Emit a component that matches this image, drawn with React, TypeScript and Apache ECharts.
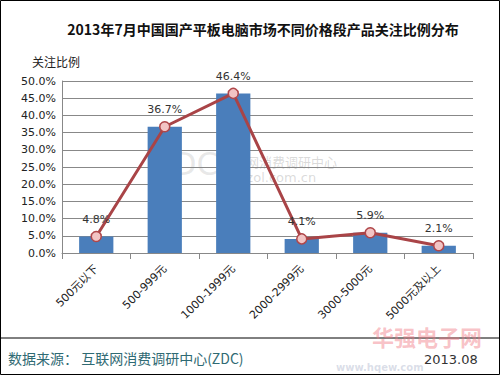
import React, { useEffect, useRef } from "react";
import * as echarts from "echarts";

const categories = ["500元以下", "500-999元", "1000-1999元", "2000-2999元", "3000-5000元", "5000元及以上"];
const barValues = [4.8, 36.7, 46.4, 4.1, 5.9, 2.1];
const lineValues = [4.8, 36.7, 46.4, 4.1, 5.9, 2.1];

const FONT = "'DejaVu Sans', 'Noto Sans CJK SC', sans-serif";
const CJK = "'Noto Sans CJK SC', sans-serif";

export default function App() {
  const ref = useRef<HTMLDivElement>(null);
  useEffect(() => {
    if (!ref.current) return;
    const chart = echarts.init(ref.current, null, { renderer: "svg" });
    chart.setOption({
      animation: false,
      backgroundColor: "#ffffff",
      title: {
        text: "2013年7月中国国产平板电脑市场不同价格段产品关注比例分布",
        left: 258,
        top: 17,
        textAlign: "center",
        textStyle: { fontSize: 14, fontWeight: "bold", color: "#111", fontFamily: CJK },
      },
      grid: { left: 62, right: 27, top: 81, bottom: 122 },
      graphic: [
        { type: "rect", shape: { x: 0.5, y: 0.5, width: 499, height: 374 }, style: { fill: "none", stroke: "#000", lineWidth: 1 }, silent: true },
        { type: "line", shape: { x1: 0, y1: 338, x2: 500, y2: 338 }, style: { stroke: "#000", lineWidth: 1 } },
        { type: "text", x: 220, y: 155, z: -1, style: { text: "互联网消费调研中心", fontSize: 13, fill: "rgba(150,150,150,0.35)", fontFamily: CJK } },
        { type: "text", x: 220, y: 171, z: -1, style: { text: "zdc.zol.com.cn", fontSize: 13, fill: "rgba(150,150,150,0.35)", fontFamily: FONT } },
        { type: "text", x: 150, y: 148, z: -1, style: { text: "ZDC", fontSize: 32, fill: "rgba(150,150,150,0.22)", fontFamily: FONT } },
        { type: "text", x: 372, y: 324, style: { text: "华强电子网", fontSize: 22, lineHeight: 24, fontWeight: "bold", fill: "rgba(240,120,130,0.45)", fontFamily: CJK } },
        { type: "text", x: 336, y: 362, z: -1, style: { text: "www.hqew.com", fontSize: 10, fontWeight: "bold", fill: "rgba(150,160,190,0.35)", fontFamily: FONT } },
        { type: "text", x: 8, y: 351, style: { text: "数据来源： 互联网消费调研中心(ZDC)", fontSize: 14, fill: "#2f6a73", fontFamily: CJK } },
        { type: "text", x: 424, y: 353, style: { text: "2013.08", fontSize: 13, fill: "#333", fontFamily: FONT } },
      ],
      xAxis: {
        type: "category",
        data: categories,
        axisLine: { lineStyle: { color: "#888" } },
        axisTick: { show: true, length: 6, lineStyle: { color: "#888" } },
        axisLabel: { rotate: 45, fontSize: 11, color: "#222", margin: 14, fontFamily: FONT },
      },
      yAxis: {
        type: "value",
        min: 0,
        max: 50,
        interval: 5,
        name: "关注比例",
        nameLocation: "end",
        nameGap: 14,
        nameTextStyle: { fontSize: 12, color: "#222", align: "right", padding: [0, -18, 0, 0], fontFamily: CJK },
        axisLine: { show: true, lineStyle: { color: "#888" } },
        axisTick: { show: false },
        axisLabel: { formatter: (v: number) => v.toFixed(1) + "%", fontSize: 11, color: "#222", margin: 6, fontFamily: FONT },
        splitLine: { lineStyle: { color: "#888" } },
      },
      series: [
        {
          type: "bar",
          data: barValues,
          barWidth: "50%",
          itemStyle: { color: "#4a7ebb" },
          z: 1,
        },
        {
          type: "line",
          data: lineValues,
          symbol: "circle",
          symbolSize: 10,
          itemStyle: { color: "#f2c4c4", borderColor: "#b0474a", borderWidth: 1.5 },
          lineStyle: { color: "#a94447", width: 3 },
          label: {
            show: true,
            position: "top",
            distance: 6,
            formatter: (p: any) => p.value.toFixed(1) + "%",
            fontSize: 11,
            color: "#333",
            fontFamily: FONT,
          },
          z: 3,
        },
      ],
    });
    return () => chart.dispose();
  }, []);
  return <div ref={ref} style={{ position: "fixed", left: 0, top: 0, width: 500, height: 375 }} />;
}
